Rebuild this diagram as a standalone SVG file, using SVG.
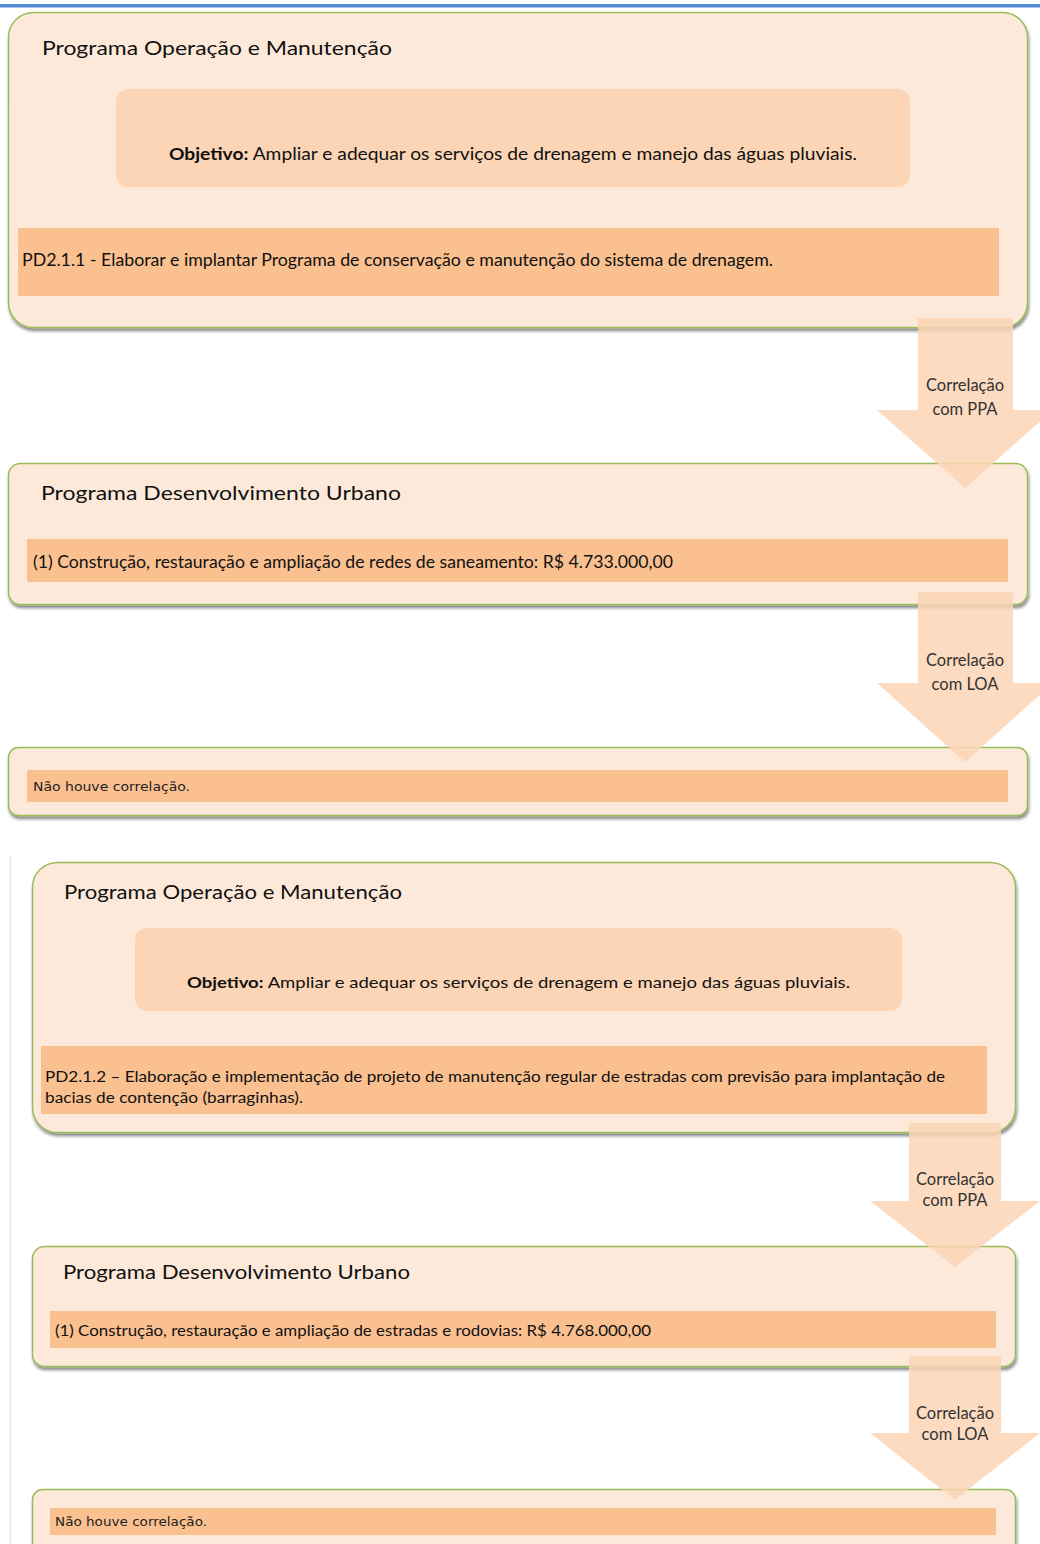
<svg xmlns="http://www.w3.org/2000/svg" width="1040" height="1544" viewBox="0 0 1040 1544">
<defs>
<filter id="sh" x="-5%" y="-10%" width="110%" height="130%">
<feDropShadow dx="1" dy="3" stdDeviation="1.8" flood-color="#000" flood-opacity="0.45"/>
</filter>
<style>
.box{fill:#FDE9D9;stroke:#9BBB59;stroke-width:1.5}
.obj{fill:#FBD5B5}
.bar{fill:#FAC090}
.arr{fill:#FBD5B5;fill-opacity:0.85}
.t{font-family:Lato,"Liberation Sans",sans-serif;fill:#111}
.title{font-size:20px}
.v{font-family:"DejaVu Sans",Verdana,sans-serif;fill:#222;font-size:12.5px}
.al{font-family:Lato,"Liberation Sans",sans-serif;fill:#333;font-size:16.5px;text-anchor:middle}
</style>
</defs>
<rect width="1040" height="1544" fill="#fff"/>
<rect x="0" y="4" width="1040" height="3.5" fill="#558ED5"/>
<line x1="10.5" y1="856" x2="10.5" y2="1544" stroke="#E8E8E8" stroke-width="1.5"/>

<g id="n1">
<rect class="box" x="8.5" y="12.5" width="1019" height="315" rx="25" filter="url(#sh)"/>
<text class="t title" x="42" y="55" textLength="350" lengthAdjust="spacingAndGlyphs">Programa Operação e Manutenção</text>
<rect class="obj" x="116" y="89" width="794" height="98" rx="12"/>
<text class="t" x="169" y="160" font-size="17" textLength="688" lengthAdjust="spacingAndGlyphs"><tspan font-weight="bold">Objetivo:</tspan> Ampliar e adequar os serviços de drenagem e manejo das águas pluviais.</text>
<rect class="bar" x="18" y="228" width="981" height="68"/>
<text class="t" x="22" y="266" font-size="17" textLength="751" lengthAdjust="spacingAndGlyphs">PD2.1.1 - Elaborar e implantar Programa de conservação e manutenção do sistema de drenagem.</text>
</g>

<g id="n2">
<rect class="box" x="8.5" y="463.5" width="1019" height="141" rx="12" filter="url(#sh)"/>
<text class="t title" x="41" y="500" textLength="360" lengthAdjust="spacingAndGlyphs">Programa Desenvolvimento Urbano</text>
<rect class="bar" x="27" y="539" width="981" height="43"/>
<text class="t" x="33" y="568" font-size="17" textLength="640" lengthAdjust="spacingAndGlyphs">(1)  Construção, restauração e ampliação de redes de saneamento: R$ 4.733.000,00</text>
</g>

<g id="n3">
<rect class="box" x="8.5" y="747.5" width="1019" height="68" rx="10" filter="url(#sh)"/>
<rect class="bar" x="27" y="770" width="981" height="32"/>
<text class="v" x="33" y="791" textLength="157" lengthAdjust="spacingAndGlyphs">Não houve correlação.</text>
</g>

<g id="n4">
<rect class="box" x="32.5" y="862.5" width="983" height="270" rx="25" filter="url(#sh)"/>
<text class="t" x="64" y="899" font-size="19.5" textLength="338" lengthAdjust="spacingAndGlyphs">Programa Operação e Manutenção</text>
<rect class="obj" x="135" y="928" width="767" height="83" rx="12"/>
<text class="t" x="187" y="988" font-size="16" textLength="663" lengthAdjust="spacingAndGlyphs"><tspan font-weight="bold">Objetivo:</tspan> Ampliar e adequar os serviços de drenagem e manejo das águas pluviais.</text>
<rect class="bar" x="41" y="1046" width="946" height="68"/>
<text class="t" x="45" y="1082" font-size="15.5" textLength="900" lengthAdjust="spacingAndGlyphs">PD2.1.2 – Elaboração e implementação de projeto de manutenção regular de estradas com previsão para implantação de</text>
<text class="t" x="45" y="1103" font-size="15.5" textLength="258" lengthAdjust="spacingAndGlyphs">bacias de contenção (barraginhas).</text>
</g>

<g id="n5">
<rect class="box" x="32.5" y="1246.5" width="983" height="120" rx="12" filter="url(#sh)"/>
<text class="t" x="63" y="1279" font-size="19.5" textLength="347" lengthAdjust="spacingAndGlyphs">Programa Desenvolvimento Urbano</text>
<rect class="bar" x="50" y="1311" width="946" height="37"/>
<text class="t" x="55" y="1336" font-size="15.5" textLength="596" lengthAdjust="spacingAndGlyphs">(1) Construção, restauração e ampliação de estradas e rodovias: R$ 4.768.000,00</text>
</g>

<g id="n6">
<rect class="box" x="32.5" y="1489.5" width="983" height="80" rx="10" filter="url(#sh)"/>
<rect class="bar" x="50" y="1508" width="946" height="27"/>
<text class="v" x="55" y="1526" font-size="12" textLength="152" lengthAdjust="spacingAndGlyphs">Não houve correlação.</text>
</g>

<g id="connectors">
<g id="a1">
<polygon class="arr" points="918,318 1013,318 1013,410 1053,410 965,488 877,410 918,410"/>
<text class="al" x="965" y="391">Correlação</text>
<text class="al" x="965" y="415">com PPA</text>
</g>
<g id="a2">
<polygon class="arr" points="918,592 1013,592 1013,683 1053,683 965,762 877,683 918,683"/>
<text class="al" x="965" y="666">Correlação</text>
<text class="al" x="965" y="690">com LOA</text>
</g>
<g id="a3">
<polygon class="arr" points="909,1123 1001,1123 1001,1201 1040,1201 955,1267 870,1201 909,1201"/>
<text class="al" x="955" y="1185" font-size="16">Correlação</text>
<text class="al" x="955" y="1206" font-size="16">com PPA</text>
</g>
<g id="a4">
<polygon class="arr" points="909,1356 1001,1356 1001,1433 1040,1433 955,1500 870,1433 909,1433"/>
<text class="al" x="955" y="1419" font-size="16">Correlação</text>
<text class="al" x="955" y="1440" font-size="16">com LOA</text>
</g>
</g>
</svg>
